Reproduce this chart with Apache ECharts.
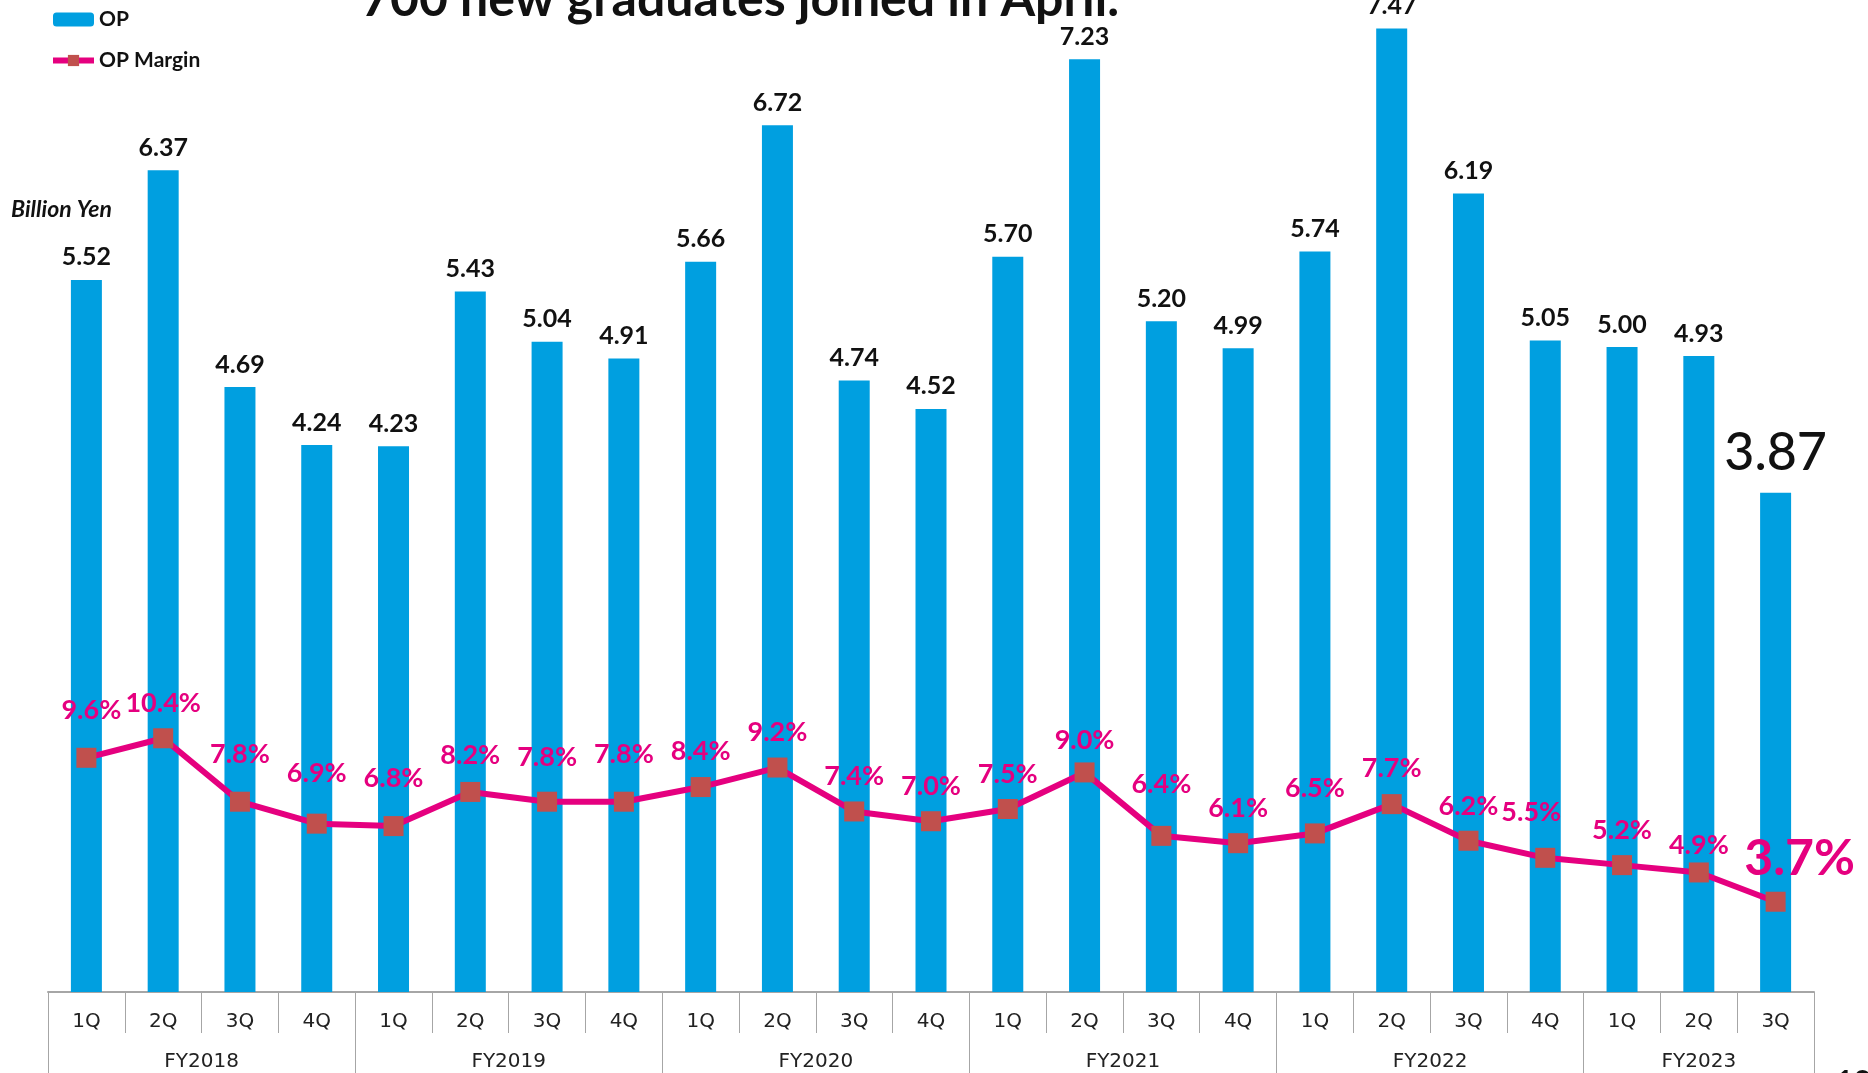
<!DOCTYPE html>
<html>
<head>
<meta charset="utf-8">
<script src="https://cdn.jsdelivr.net/npm/echarts@6/dist/echarts.min.js"></script>
<style>
html,body{margin:0;padding:0;background:#fff;}
#chart{width:1868px;height:1073px;}
</style>
</head>
<body>
<div id="chart"></div>
<script>
const quarters = ['1Q','2Q','3Q','4Q','1Q','2Q','3Q','4Q','1Q','2Q','3Q','4Q','1Q','2Q','3Q','4Q','1Q','2Q','3Q','4Q','1Q','2Q','3Q'];
const years = ['FY2018','FY2019','FY2020','FY2021','FY2022','FY2023'];
const yearBounds = [0,4,8,12,16,20,23];
const yearCenters = [2,6,10,14,18,21.5];
const opValues = [5.52,6.37,4.69,4.24, 4.23,5.43,5.04,4.91, 5.66,6.72,4.74,4.52, 5.70,7.23,5.20,4.99, 5.74,7.47,6.19,5.05, 5.00,4.93,3.87];
const marginValues = [9.6,10.4,7.8,6.9, 6.8,8.2,7.8,7.8, 8.4,9.2,7.4,7.0, 7.5,9.0,6.4,6.1, 6.5,7.7,6.2,5.5, 5.2,4.9,3.7];

// label placement tweaks (styling only, not data)
const marginLabelShift = [
  [5,0],[0,13],[0,0],[0,-3], [0,0],[0,11],[0,3],[0,0],
  [0,12],[0,12],[0,12],[0,13], [0,13],[0,15],[0,-4],[0,13],
  [0,2],[0,12],[0,13],[-14,2], [0,13],[0,20],[24,16]
];

const BLUE = '#009FE0';
const PINK = '#E5007F';
const MARK = '#C0504D';
const GREY = '#A6A6A6';
const LAST = opValues.length - 1;

const barData = opValues.map((v, i) => {
  if (i === LAST) {
    return {value: v, label: {fontSize: 52, fontWeight: 500, distance: 14}};
  }
  return v;
});
const lineData = marginValues.map((v, i) => {
  const lab = {offset: marginLabelShift[i]};
  if (i === LAST) lab.fontSize = 50;
  return {value: v, label: lab};
});

const chart = echarts.init(document.getElementById('chart'), null, {renderer: 'canvas'});
chart.setOption({
  animation: false,
  backgroundColor: '#ffffff',
  legend: {
    orient: 'vertical',
    left: 50,
    top: 9,
    padding: 0,
    itemGap: 20,
    itemWidth: 41,
    itemHeight: 14,
    textStyle: {fontFamily: 'Lato', fontSize: 21, fontWeight: 'bold', color: '#111'},
    data: [
      {name: 'OP'},
      {name: 'OP Margin', lineStyle: {width: 6, color: PINK}, itemStyle: {color: MARK}}
    ]
  },
  grid: {left: 48, right: 54, top: 0, bottom: 81, containLabel: false},
  xAxis: [
    {
      type: 'category',
      data: quarters,
      position: 'bottom',
      axisLine: {show: true, lineStyle: {color: GREY, width: 2}},
      axisTick: {show: true, length: 41, alignWithLabel: false, lineStyle: {color: GREY, width: 1}},
      axisLabel: {margin: 20, fontFamily: 'DejaVu Sans', fontSize: 20, color: '#222'},
      splitLine: {show: false}
    },
    {
      type: 'value',
      min: 0,
      max: 23,
      position: 'bottom',
      axisLine: {show: false},
      splitLine: {show: false},
      axisTick: {show: true, length: 81, customValues: yearBounds, lineStyle: {color: GREY, width: 1}},
      axisLabel: {
        show: true,
        margin: 60,
        customValues: yearCenters,
        fontFamily: 'DejaVu Sans',
        fontSize: 20,
        color: '#222',
        formatter: function (v) {
          const idx = yearCenters.indexOf(v);
          return idx >= 0 ? years[idx] : '';
        }
      }
    }
  ],
  yAxis: [
    {type: 'value', min: 0, max: 7.69, show: false, splitLine: {show: false}},
    {type: 'value', min: 0, max: 40.66, show: false, splitLine: {show: false}}
  ],
  series: [
    {
      name: 'OP',
      type: 'bar',
      xAxisIndex: 0,
      yAxisIndex: 0,
      barWidth: 31,
      itemStyle: {color: BLUE},
      label: {
        show: true,
        position: 'top',
        distance: 10,
        fontFamily: 'Lato',
        fontSize: 25,
        fontWeight: 'bold',
        color: '#111',
        formatter: function (p) { return p.value.toFixed(2); }
      },
      data: barData,
      z: 2
    },
    {
      name: 'OP Margin',
      type: 'line',
      xAxisIndex: 0,
      yAxisIndex: 1,
      symbol: 'rect',
      symbolSize: 20,
      showAllSymbol: true,
      itemStyle: {color: MARK},
      lineStyle: {color: PINK, width: 6},
      label: {
        show: true,
        position: 'top',
        distance: 24,
        fontFamily: 'Lato',
        fontSize: 27,
        fontWeight: 'bold',
        color: PINK,
        formatter: function (p) { return p.value.toFixed(1) + '%'; }
      },
      data: lineData,
      z: 5
    }
  ],
  graphic: [
    {
      type: 'text',
      x: 740,
      y: 0,
      style: {
        text: '700 new graduates joined in April.',
        font: 'bold 50px Lato',
        fill: '#111',
        textAlign: 'center',
        textVerticalAlign: 'middle'
      }
    },
    {
      type: 'text',
      x: 11,
      y: 210,
      style: {
        text: 'Billion Yen',
        font: 'italic bold 23px Lato',
        fill: '#111',
        textAlign: 'left',
        textVerticalAlign: 'middle'
      }
    },
    {
      type: 'text',
      x: 1836,
      y: 1082,
      style: {
        text: '13',
        font: 'bold 30px Lato',
        fill: '#111',
        textAlign: 'left',
        textVerticalAlign: 'middle'
      }
    }
  ]
});
</script>
</body>
</html>
